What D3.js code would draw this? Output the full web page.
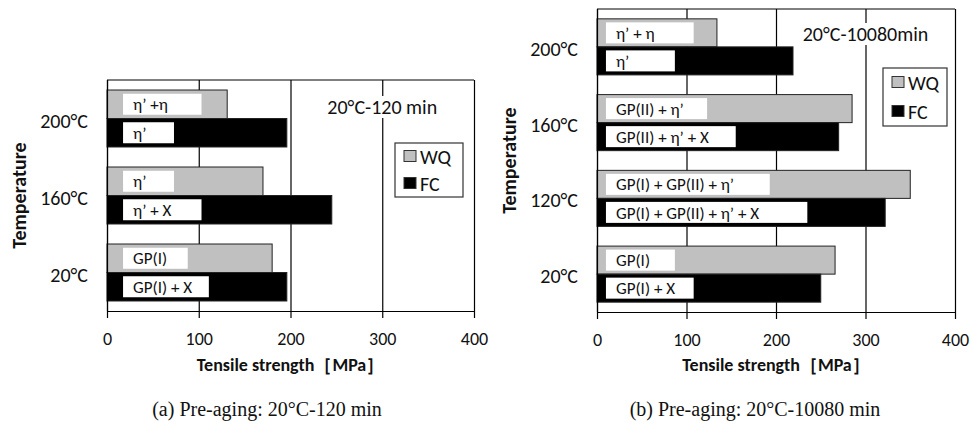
<!DOCTYPE html>
<html>
<head>
<meta charset="utf-8">
<script src="https://cdn.jsdelivr.net/npm/d3@7"></script>
<style>
  body { margin: 0; background: #fff; }
  text { font-family: Carlito, Lato, "Noto Sans", sans-serif; fill: #111; }
  .caption { font-family: "Liberation Serif", "DejaVu Serif", serif; }
</style>
</head>
<body>
<div id="chart"></div>
<script>
/* values (tensile strength, MPa) */
var seriesNames = ["WQ", "FC"];

var tempsA = ["200°C", "160°C", "20°C"];
var wqA = [131, 170, 180];
var fcA = [196, 245, 196];
var wqLabelsA = ["η’ +η", "η’", "GP(I)"];
var fcLabelsA = ["η’", "η’ + X", "GP(I) + X"];
// where the white label boxes end (MPa)
var wqBoxA = [103, 73, 88];
var fcBoxA = [73, 103, 111];

var tempsB = ["200°C", "160°C", "120°C", "20°C"];
var wqB = [134, 285, 350, 266];
var fcB = [219, 270, 322, 250];
var wqLabelsB = ["η’ + η", "GP(II) + η’", "GP(I) + GP(II) + η’", "GP(I)"];
var fcLabelsB = ["η’", "GP(II) + η’ + X", "GP(I) + GP(II) + η’ + X", "GP(I) + X"];
var wqBoxB = [108, 123, 193, 87];
var fcBoxB = [87, 155, 235, 108];

var xTicks = [0, 100, 200, 300, 400];
var xTitle = "Tensile strength［MPa］";
var yTitle = "Temperature";

var width = 973, height = 428;
var colors = { WQ: "#c0c0c0", FC: "#000" };

var svg = d3.select("#chart").append("svg")
    .attr("width", width)
    .attr("height", height);

function panel(opt) {
    var g = svg.append("g");

    var x = d3.scaleLinear().domain([0, 400]).range([opt.left, opt.right]);
    var y = d3.scaleBand().domain(opt.temps)
        .range([opt.top, opt.bottom])
        .paddingInner(0.26).paddingOuter(0.13);
    var ySub = d3.scaleBand().domain(seriesNames).range([0, y.bandwidth()]);

    // frame + vertical gridlines
    g.append("line")
        .attr("x1", opt.left).attr("x2", opt.right)
        .attr("y1", opt.top).attr("y2", opt.top)
        .attr("stroke", "#000");
    g.append("g").selectAll("line")
        .data(xTicks)
        .enter().append("line")
        .attr("x1", function(d) { return x(d) + 0.5; })
        .attr("x2", function(d) { return x(d) + 0.5; })
        .attr("y1", opt.top).attr("y2", opt.bottom)
        .attr("stroke", "#000").attr("stroke-width", 1.2);

    // annotation in the top right, white behind it cuts the gridline
    var ann = g.append("text")
        .attr("x", x(300)).attr("y", opt.top + opt.annDy)
        .attr("text-anchor", "middle")
        .attr("dy", "0.35em")
        .style("font-size", "20px")
        .text(opt.note);
    var bb = ann.node().getBBox();
    g.insert("rect", "text")
        .attr("x", bb.x - 2).attr("y", bb.y + 1)
        .attr("width", bb.width + 4).attr("height", bb.height - 2)
        .attr("fill", "#fff");

    // bars
    var rows = opt.temps.map(function(t, i) {
        return [
            { temp: t, key: "WQ", value: opt.wq[i], label: opt.wqLabels[i], box: opt.wqBox[i] },
            { temp: t, key: "FC", value: opt.fc[i], label: opt.fcLabels[i], box: opt.fcBox[i] }
        ];
    });
    var flat = [].concat.apply([], rows);

    var bar = g.append("g").selectAll("g")
        .data(flat)
        .enter().append("g")
        .attr("transform", function(d) { return "translate(0," + (y(d.temp) + ySub(d.key)) + ")"; });

    bar.append("rect")
        .attr("x", x(0))
        .attr("width", function(d) { return x(d.value) - x(0); })
        .attr("height", ySub.bandwidth())
        .attr("fill", function(d) { return colors[d.key]; })
        .attr("stroke", "#222").attr("stroke-width", 1);

    // white phase label boxes
    var boxH = 21;
    bar.append("rect")
        .attr("x", x(opt.boxStart))
        .attr("y", (ySub.bandwidth() - boxH) / 2)
        .attr("width", function(d) { return x(d.box) - x(opt.boxStart); })
        .attr("height", boxH)
        .attr("fill", "#fff");
    bar.append("text")
        .attr("x", x(opt.boxStart) + 10)
        .attr("y", ySub.bandwidth() / 2)
        .attr("dy", "0.36em")
        .style("font-size", "17px")
        .text(function(d) { return d.label; });

    // x axis
    var ax = g.append("g")
        .attr("transform", "translate(0," + opt.bottom + ")")
        .call(d3.axisBottom(x).tickValues(xTicks).tickSize(7).tickSizeOuter(0).tickPadding(14));
    ax.select(".domain").attr("stroke", "#000").attr("stroke-width", 1.2);
    ax.selectAll(".tick line").attr("stroke", "#000").attr("stroke-width", 1.2);
    ax.selectAll("text")
        .style("font-family", "Carlito, Lato, sans-serif")
        .style("font-size", "18px").attr("fill", "#111");

    // y left line and category labels
    g.append("line")
        .attr("x1", opt.left + 0.5).attr("x2", opt.left + 0.5)
        .attr("y1", opt.top).attr("y2", opt.bottom)
        .attr("stroke", "#000").attr("stroke-width", 1.2);
    g.append("g").selectAll("text")
        .data(opt.temps)
        .enter().append("text")
        .attr("x", opt.left - 19)
        .attr("y", function(d) { return y(d) + y.bandwidth() / 2 + 2; })
        .attr("dy", "0.35em")
        .attr("text-anchor", "end")
        .style("font-size", "20px")
        .text(function(d) { return d; });

    g.append("text")
        .attr("transform", "translate(" + opt.yTitleX + "," + ((opt.top + opt.bottom) / 2) + ") rotate(-90)")
        .attr("text-anchor", "middle")
        .attr("dy", "0.35em")
        .style("font-size", "20px").style("font-weight", "bold")
        .text(yTitle);

    g.append("text")
        .attr("x", x(200)).attr("y", 371)
        .attr("text-anchor", "middle")
        .style("font-size", "18px").style("font-weight", "bold")
        .text(xTitle);

    // legend
    var lg = g.append("g").attr("transform", "translate(" + opt.legX + "," + opt.legY + ")");
    lg.append("rect")
        .attr("width", opt.legW).attr("height", opt.legH)
        .attr("fill", "#fff").attr("stroke", "#333").attr("stroke-width", 1.2);
    var item = lg.selectAll("g")
        .data(seriesNames)
        .enter().append("g")
        .attr("transform", function(d, i) { return "translate(9," + (opt.legH * (0.25 + 0.5 * i)) + ")"; });
    item.append("rect")
        .attr("y", -6).attr("width", 12).attr("height", 11)
        .attr("fill", function(d) { return colors[d]; })
        .attr("stroke", "#333");
    item.append("text")
        .attr("x", 16).attr("dy", "0.35em")
        .style("font-size", "20px")
        .text(function(d) { return d; });

    // caption
    svg.append("text")
        .attr("class", "caption")
        .attr("x", opt.capX).attr("y", 416)
        .attr("text-anchor", "middle")
        .style("font-size", "20px")
        .text(opt.caption);
}

panel({
    left: 107, right: 474, top: 80, bottom: 311,
    temps: tempsA, wq: wqA, fc: fcA,
    wqLabels: wqLabelsA, fcLabels: fcLabelsA, wqBox: wqBoxA, fcBox: fcBoxA,
    boxStart: 17.5,
    note: "20°C-120 min", annDy: 27,
    legX: 395, legY: 143, legW: 68, legH: 54,
    yTitleX: 19,
    capX: 267, caption: "(a) Pre-aging: 20°C-120 min"
});

panel({
    left: 597, right: 955, top: 9, bottom: 312,
    temps: tempsB, wq: wqB, fc: fcB,
    wqLabels: wqLabelsB, fcLabels: fcLabelsB, wqBox: wqBoxB, fcBox: fcBoxB,
    boxStart: 10,
    note: "20°C-10080min", annDy: 25,
    legX: 883, legY: 68, legW: 64, legH: 58,
    yTitleX: 509,
    capX: 755, caption: "(b) Pre-aging: 20°C-10080 min"
});
</script>
</body>
</html>
